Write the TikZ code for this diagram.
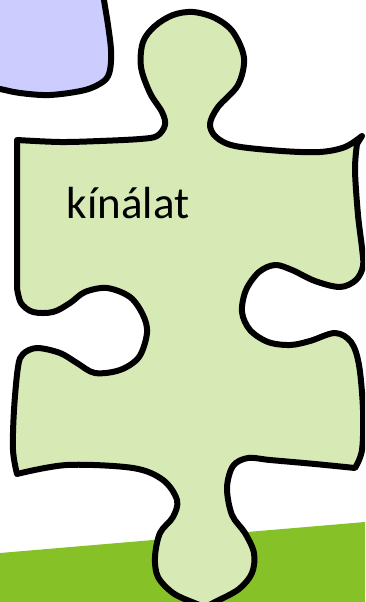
\documentclass[tikz,border=0pt]{standalone}
\usepackage{fontspec}
\setmainfont{Carlito}
\definecolor{puzzlegreen}{RGB}{215,233,181}
\definecolor{puzzleblue}{RGB}{204,204,255}
\definecolor{grassgreen}{RGB}{135,193,40}
\begin{document}
\begin{tikzpicture}[x=1pt, y=-1pt,
    outline/.style={line width=6pt, line join=round, draw=black},
    piecefill/.style={fill=puzzlegreen},
    smoothseg/.style={smooth, tension=0.55}]
        % 1. MOLDURA
        \def\W{365}  % largura em px
        \def\H{602}  % altura em px
        \useasboundingbox (0,0) rectangle (\W,\H);
        \clip (0,0) rectangle (\W,\H);

        % ==========================================
        % 2. FAIXA VERDE DO CHAO
        % ==========================================
        \fill[grassgreen] (0,553) -- (\W,522) -- (\W,\H) -- (0,\H) -- cycle;

        % ==========================================
        % 3. PECA AZUL (canto superior)
        % ==========================================
        \path[outline, fill=puzzleblue] (-10,-10) -- (103,-10)
            -- plot[smoothseg] coordinates {(103,-10) (104,0) (108,25) (111,50) (110,70)
                (104,81) (85,90) (50,95) (20,93) (0,89) (-10,88)}
            -- cycle;

        % ==========================================
        % 4. PECA VERDE
        % ==========================================
        \path[outline, piecefill] (17,140)
            % borda de cima e saliencia superior
            -- plot[smoothseg] coordinates {(17,140) (60,142) (100,141) (140,139) (157,136)
                (165,125) (162,112) (150,93) (141,67) (143,42) (155,26) (173,15) (193,12)
                (215,18) (233,32) (244,58) (238,85) (218,107) (210,124) (216,137) (235,146)
                (282,151) (320,152) (345,147) (362,136)}
            % borda direita e encaixe
            -- plot[smoothseg] coordinates {(357,144) (355,170) (358,215) (362,248) (363,266)
                (356,280) (340,287) (315,281) (292,270) (275,265) (259,272) (246,290)
                (242,312) (250,330) (268,342) (290,345) (310,341) (335,333) (351,342)
                (359,365) (363,410) (362,450) (355,468)}
            % borda de baixo e saliencia inferior
            -- plot[smoothseg] coordinates {(355,468) (315,464) (270,460) (248,458) (233,466)
                (227,488) (232,515) (245,533) (254,553) (252,573) (239,589) (217,601)
                (205,606) (192,602) (173,593) (158,577) (155,557) (160,533) (173,517)
                (177,500) (163,480) (133,468) (67,465) (17,474)}
            % borda esquerda e encaixe
            -- plot[smoothseg] coordinates {(17,474) (13,450) (14,410) (18,367) (23,354)
                (37,348) (60,353) (77,363) (95,373) (120,370) (139,357) (147,333) (143,315)
                (130,297) (107,288) (85,292) (70,303) (53,312) (33,312) (21,303) (17,288)}
            -- cycle;

        % ==========================================
        % 5. ROTULO
        % ==========================================
        \node[anchor=base, font=\fontsize{45}{50}\selectfont, inner sep=0pt] (kinalat) at (128,218) {kínálat};

    \end{tikzpicture}
\end{document}
